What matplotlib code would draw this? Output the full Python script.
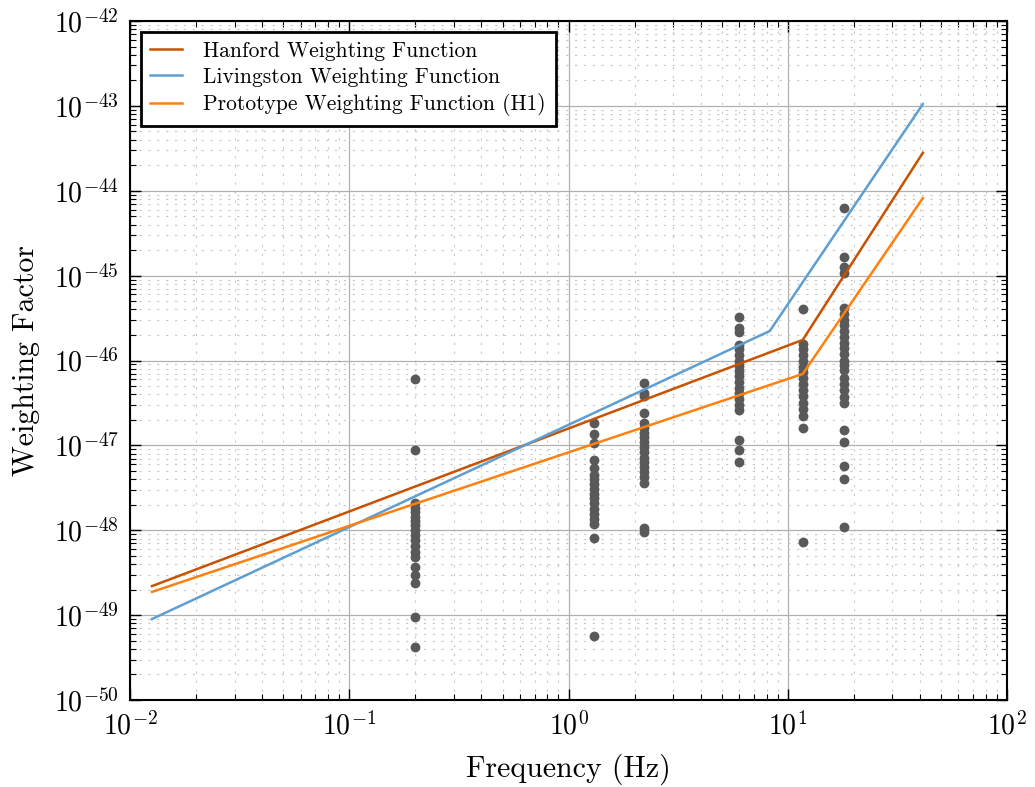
import numpy as np
import matplotlib
matplotlib.use("Agg")
import matplotlib.pyplot as plt

plt.rcParams['font.family'] = 'serif'
plt.rcParams['font.serif'] = ['cmr10', 'DejaVu Serif']
plt.rcParams['mathtext.fontset'] = 'cm'
plt.rcParams['axes.formatter.use_mathtext'] = True
plt.rcParams['axes.unicode_minus'] = False

# weighting functions (piecewise power laws)
hanford_f = [0.0126, 11.7, 41.3]
hanford_w = [2.2e-49, 1.75e-46, 2.8e-44]
livingston_f = [0.0126, 8.28, 41.3]
livingston_w = [9.0e-50, 2.23e-46, 1.05e-43]
proto_f = [0.0126, 11.7, 41.3]
proto_w = [1.88e-49, 6.95e-47, 8.2e-45]

# measured points, grouped by frequency
freqs = [0.2, 1.3, 2.2, 6.0, 11.7, 18.0]
w_02 = [6.1e-47, 8.9e-48, 2.1e-48, 1.85e-48, 1.65e-48, 1.45e-48, 1.3e-48, 1.15e-48,
        1.0e-48, 8.8e-49, 7.6e-49, 6.5e-49, 5.5e-49, 4.9e-49, 3.7e-49, 3.0e-49,
        2.4e-49, 9.5e-50, 4.2e-50]
w_13 = [1.84e-47, 1.37e-47, 1.07e-47, 6.8e-48, 5.4e-48, 4.5e-48, 4.0e-48, 3.5e-48,
        3.1e-48, 2.7e-48, 2.4e-48, 2.1e-48, 1.8e-48, 1.55e-48, 1.35e-48, 1.2e-48,
        8.1e-49, 5.7e-50]
w_22 = [5.45e-47, 4.2e-47, 3.8e-47, 2.4e-47, 1.84e-47, 1.6e-47, 1.4e-47, 1.25e-47,
        1.1e-47, 9.5e-48, 8.3e-48, 7.2e-48, 6.3e-48, 5.5e-48, 4.8e-48, 4.2e-48,
        3.6e-48, 1.07e-48, 9.5e-49]
w_60 = [3.27e-46, 2.42e-46, 2.17e-46, 1.53e-46, 1.35e-46, 1.15e-46, 1.0e-46, 8.7e-47,
        7.5e-47, 6.5e-47, 5.6e-47, 4.8e-47, 4.1e-47, 3.5e-47, 3.0e-47, 2.6e-47,
        1.16e-47, 8.85e-48, 6.4e-48]
w_117 = [4.06e-46, 1.55e-46, 1.35e-46, 1.15e-46, 1.0e-46, 8.5e-47, 7.3e-47, 6.2e-47,
         5.3e-47, 4.5e-47, 3.8e-47, 3.2e-47, 2.7e-47, 2.2e-47, 1.6e-47, 7.3e-49]
w_18 = [6.3e-45, 1.66e-45, 1.26e-45, 1.08e-45, 4.17e-46, 3.5e-46, 3.0e-46, 2.6e-46,
        2.2e-46, 1.9e-46, 1.6e-46, 1.4e-46, 1.2e-46, 1.0e-46, 8.8e-47, 7.8e-47,
        6.2e-47, 5.3e-47, 4.5e-47, 3.7e-47, 3.2e-47, 1.52e-47, 1.1e-47, 5.7e-48,
        4.0e-48, 1.1e-48]
point_groups = [w_02, w_13, w_22, w_60, w_117, w_18]

fig = plt.figure(figsize=(10.35, 7.87), dpi=100)
ax = fig.add_axes([0.1256, 0.1105, 0.8474, 0.8628])

for f, ws in zip(freqs, point_groups):
    ax.scatter([f] * len(ws), ws, s=50, color='#595959', zorder=3, linewidths=0)

ax.plot(hanford_f, hanford_w, color='#C85200', lw=1.8, label='Hanford Weighting Function', zorder=4)
ax.plot(livingston_f, livingston_w, color='#5F9ED1', lw=1.8, label='Livingston Weighting Function', zorder=4)
ax.plot(proto_f, proto_w, color='#FF800E', lw=1.8, label='Prototype Weighting Function (H1)', zorder=4)

ax.set_xscale('log')
ax.set_yscale('log')
ax.set_xlim(1e-2, 1e2)
ax.set_ylim(1e-50, 1e-42)
ax.set_yticks([10.0 ** k for k in range(-50, -41)])

ax.grid(True, which='major', color='#b0b0b0', lw=0.9, ls='-')
ax.grid(True, which='minor', color='#c8c8c8', lw=0.8, ls=(0, (2, 6)))
ax.set_axisbelow(True)

ax.tick_params(which='both', direction='in', top=True, right=True, labelsize=20, pad=8)
ax.tick_params(which='major', length=8, width=1)
ax.tick_params(which='minor', length=4, width=0.8)
for sp in ax.spines.values():
    sp.set_linewidth(1.5)

ax.set_xlabel('Frequency (Hz)', fontsize=21.5, labelpad=10)
ax.set_ylabel('Weighting Factor', fontsize=21.5, labelpad=10)

leg = ax.legend(loc='upper left', fontsize=15.5, fancybox=False, framealpha=1,
                edgecolor='black', borderpad=0.45, handlelength=1.45,
                handletextpad=1.0, labelspacing=0.3)
leg.get_frame().set_linewidth(2)

fig.savefig('out.png', dpi=100)
